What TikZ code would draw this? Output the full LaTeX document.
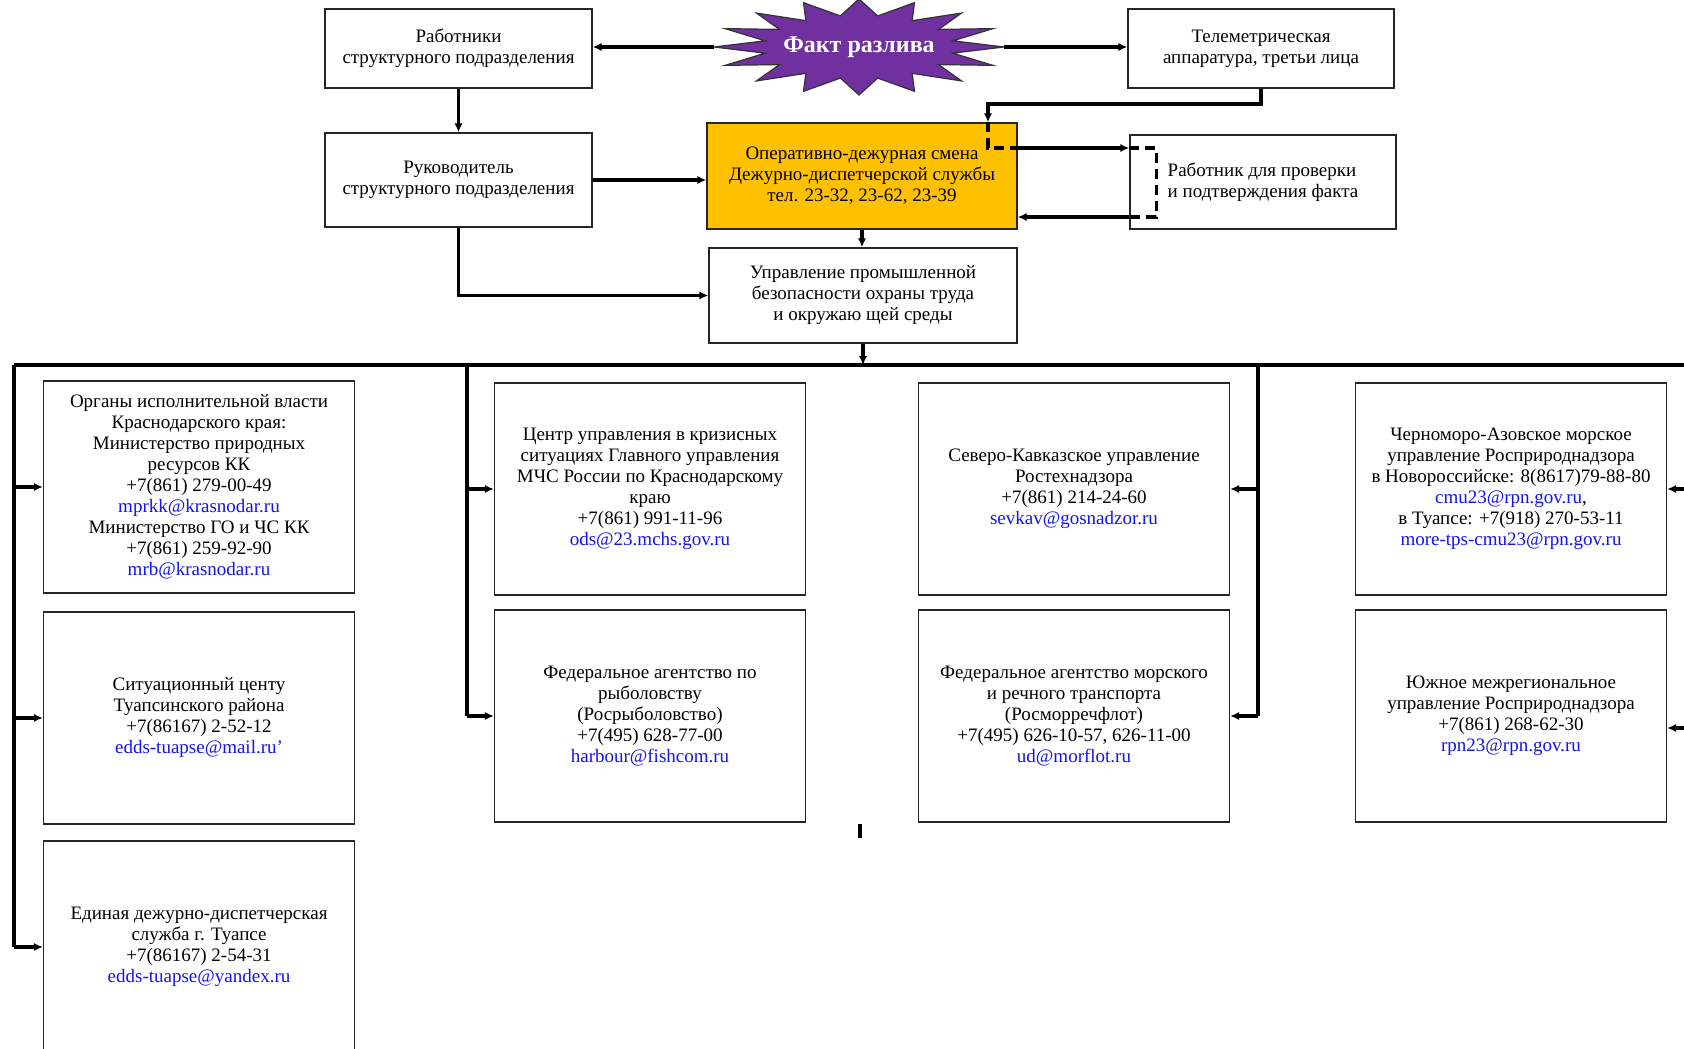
\documentclass[tikz,border=0pt]{standalone}
\usepackage{fontspec}
\setmainfont{Liberation Serif}
\usetikzlibrary{arrows.meta}
\definecolor{spillviolet}{RGB}{112, 48, 160}
\definecolor{dutygold}{RGB}{255, 192, 0}
\definecolor{maillink}{RGB}{20, 20, 235}
\newcommand{\mail}[1]{\textcolor{maillink}{#1}}

\begin{document}
\begin{tikzpicture}[x=0.5pt, y=-0.5pt,
    box/.style={draw=black!85, line width=0.7pt, fill=white, align=center,
                inner sep=2pt, font=\fontsize{9.5}{10.5}\selectfont},
    orgbox/.style={box, minimum width=155.5pt, minimum height=106pt},
    link/.style={line width=1.6pt, -{Latex[length=4.5pt, width=4.2pt]}},
    wire/.style={line width=1.6pt},
    dashwire/.style={line width=1.6pt, dash pattern=on 5pt off 3pt}]
    \useasboundingbox (0,0) rectangle (1684,1048);
    % Fact of the spill
    \node[minimum width=145pt, minimum height=48pt] (fact) at (859,47) {};
    \filldraw[draw=black!80, fill=spillviolet, line width=0.6pt]
        plot[samples at={0,...,31}]
        ({859+145*(1-0.34*mod(\x,2))*cos(\x*11.25)}, {47-48*(1-0.34*mod(\x,2))*sin(\x*11.25)}) -- cycle;
    \node[text=white, font=\fontsize{12}{14}\selectfont\bfseries] at (fact) {Факт разлива};
    % Top row
    \node[box, minimum width=133.5pt, minimum height=39.5pt] (rab)  at ( 458.5, 48.5) {Работники\\структурного подразделения};
    \node[box, minimum width=133pt,   minimum height=39.5pt] (tele) at (1261.0, 48.5) {Телеметрическая\\аппаратура, третьи лица};
    % Second row
    \node[box, minimum width=133.5pt, minimum height=47pt]   (ruk)  at ( 458.5,180.0) {Руководитель\\структурного подразделения};
    \node[box, fill=dutygold, minimum width=155pt, minimum height=53pt] (oper) at (862.0,176.0)
        {Оперативно-дежурная смена\\Дежурно-диспетчерской службы\\тел. 23-32, 23-62, 23-39};
    \node[box, align=left, minimum width=133pt, minimum height=47pt] (prov) at (1263.0,182.0)
        {Работник для проверки\\и подтверждения факта};
    \node[box, minimum width=154pt, minimum height=47.5pt]   (upr)  at ( 863.0,295.5)
        {Управление промышленной\\безопасности охраны труда\\и окружаю щей среды};
    % Organisations, column 1
    \node[orgbox] (ministry) at (199,487) {Органы исполнительной власти\\Краснодарского края:\\Министерство природных\\ресурсов КК\\+7(861) 279-00-49\\\mail{mprkk@krasnodar.ru}\\Министерство ГО и ЧС КК\\+7(861) 259-92-90\\\mail{mrb@krasnodar.ru}};
    \node[orgbox] (sitcentre) at (199,718) {Ситуационный центу\\Туапсинского района\\+7(86167) 2-52-12\\\mail{edds-tuapse@mail.ru'}};
    \node[orgbox] (edds) at (199,947) {Единая дежурно-диспетчерская\\служба г. Туапсе\\+7(86167) 2-54-31\\\mail{edds-tuapse@yandex.ru}};
    % Organisations, column 2
    \node[orgbox] (mchs) at (650,489) {Центр управления в кризисных\\ситуациях Главного управления\\МЧС России по Краснодарскому\\краю\\+7(861) 991-11-96\\\mail{ods@23.mchs.gov.ru}};
    \node[orgbox] (fish) at (650,716) {Федеральное агентство по\\рыболовству\\(Росрыболовство)\\+7(495) 628-77-00\\\mail{harbour@fishcom.ru}};
    % Organisations, column 3
    \node[orgbox] (rtn) at (1074,489) {Северо-Кавказское управление\\Ростехнадзора\\+7(861) 214-24-60\\\mail{sevkav@gosnadzor.ru}};
    \node[orgbox] (morflot) at (1074,716) {Федеральное агентство морского\\и речного транспорта\\(Росморречфлот)\\+7(495) 626-10-57, 626-11-00\\\mail{ud@morflot.ru}};
    % Organisations, column 4
    \node[orgbox] (cmu) at (1511,489) {Черноморо-Азовское морское\\управление Росприроднадзора\\в Новороссийске: 8(8617)79-88-80\\\mail{cmu23@rpn.gov.ru},\\в Туапсе: +7(918) 270-53-11\\\mail{more-tps-cmu23@rpn.gov.ru}};
    \node[orgbox] (rpn) at (1511,716) {Южное межрегиональное\\управление Росприроднадзора\\+7(861) 268-62-30\\\mail{rpn23@rpn.gov.ru}};
    % Top connectors
    \draw[link] (fact.west) -- (fact.west -| rab.east);
    \draw[link] (fact.east) -- (fact.east -| tele.west);
    \draw[link] (rab) -- (ruk);
    \draw[link] (ruk.east) -- (ruk.east -| oper.west);
    \draw[link] (ruk.south) |- (upr.west);
    \draw[link] (oper.south) -- (oper.south |- upr.north);
    % Check loop
    \coordinate (loop)  at (988,104);
    \coordinate (sendA) at (oper.east |- 0,148);
    \coordinate (backA) at (oper.east |- 0,217);
    \draw[link] (tele.south) |- (loop) -- (loop |- oper.north);
    \draw[dashwire] (loop |- oper.north) |- (sendA);
    \draw[link] (sendA) -- (sendA -| prov.west);
    \draw[dashwire] (sendA -| prov.west) -- +(27,0) |- (backA -| prov.west);
    \draw[link] (backA -| prov.west) -- (backA);
    % Distribution bus
    \coordinate (busL) at (14,365);
    \coordinate (busB) at (467,365);
    \coordinate (busC) at (1258,365);
    \coordinate (busR) at (1694,365);
    \draw[link] (upr.south) -- (upr.south |- busL);
    \draw[wire] (busL) -- (busR);
    \draw[wire] (busL) -- (busL |- edds.west);
    \draw[wire] (busB) -- (busB |- fish.west);
    \draw[wire] (busC) -- (busC |- morflot.east);
    \draw[wire] (busR) -- (1694,728);
    \draw[link] (busL |- ministry.west) -- (ministry.west);
    \draw[link] (busL |- sitcentre.west) -- (sitcentre.west);
    \draw[link] (busL |- edds.west) -- (edds.west);
    \draw[link] (busB |- mchs.west) -- (mchs.west);
    \draw[link] (busB |- fish.west) -- (fish.west);
    \draw[link] (busC |- rtn.east) -- (rtn.east);
    \draw[link] (busC |- morflot.east) -- (morflot.east);
    \draw[link] (busR |- cmu.east) -- (cmu.east);
    \draw[link] (1694,728) -- (1694,728 -| rpn.east);
    % Stub under the middle
    \draw[wire] (860,824) -- (860,838);
\end{tikzpicture}
\end{document}
